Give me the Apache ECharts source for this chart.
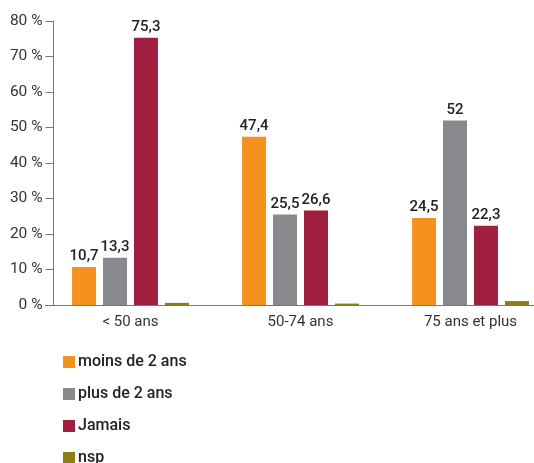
<!DOCTYPE html>
<html>
<head>
<meta charset="utf-8">
<script src="https://cdn.jsdelivr.net/npm/echarts@6/dist/echarts.min.js"></script>
<style>
  html, body { margin: 0; padding: 0; background: #fff; }
  #chart { width: 534px; height: 463px; }
</style>
</head>
<body>
<div id="chart"></div>
<script>
// Age groups on the x axis
const categories = ['< 50 ans', '50-74 ans', '75 ans et plus'];
// Share of respondents (%) per answer
const moinsDe2Ans = [10.7, 47.4, 24.5];
const plusDe2Ans = [13.3, 25.5, 52];
const jamais = [75.3, 26.6, 22.3];
const nsp = [0.6, 0.4, 1.1];
const seriesNames = ['moins de 2 ans', 'plus de 2 ans', 'Jamais', 'nsp'];
const seriesColors = ['#F5911E', '#88898D', '#A01F40', '#8C7D14'];
const yTicks = { min: 0, max: 80, interval: 10 };

const fmt = v => String(v).replace('.', ',');
const FONT = 'Roboto, "Noto Sans", sans-serif';

function bar(name, data, color, withLabel) {
  return {
    name, type: 'bar', data,
    barWidth: 24, barGap: '29%',
    itemStyle: { color },
    label: withLabel ? {
      show: true, position: 'top', distance: 3,
      formatter: p => fmt(p.value),
      color: '#222', fontSize: 15, fontWeight: 500, fontFamily: FONT
    } : { show: false }
  };
}

const chart = echarts.init(document.getElementById('chart'), null, { renderer: 'canvas' });
chart.setOption({
  animation: false,
  backgroundColor: '#fff',
  textStyle: { fontFamily: FONT },
  // three 170px-wide category bands, the last one running past the right edge
  grid: { left: 45.5, width: 510, top: 21, height: 284, containLabel: false, outerBoundsMode: 'none' },
  legend: {
    orient: 'vertical', left: 58, top: 349, height: 120,
    itemWidth: 12, itemHeight: 12, itemGap: 16,
    icon: 'rect',
    data: seriesNames,
    textStyle: { fontSize: 16, fontWeight: 500, color: '#222', fontFamily: FONT, padding: [0, 0, 0, -2] }
  },
  xAxis: {
    type: 'category', data: categories,
    axisLine: { lineStyle: { color: '#777', width: 1 } },
    axisTick: { show: false },
    axisLabel: { color: '#333', fontSize: 15, margin: 10, fontFamily: FONT }
  },
  yAxis: {
    type: 'value', min: yTicks.min, max: yTicks.max, interval: yTicks.interval,
    offset: -8,
    axisLine: { show: true, lineStyle: { color: '#777', width: 1 } },
    axisTick: { show: true, length: 8, lineStyle: { color: '#777' } },
    splitLine: { show: false },
    axisLabel: { color: '#333', fontSize: 15.5, margin: 11, formatter: '{value} %', fontFamily: FONT }
  },
  series: [
    bar(seriesNames[0], moinsDe2Ans, seriesColors[0], true),
    bar(seriesNames[1], plusDe2Ans, seriesColors[1], true),
    bar(seriesNames[2], jamais, seriesColors[2], true),
    bar(seriesNames[3], nsp, seriesColors[3], false)
  ]
});
</script>
</body>
</html>
